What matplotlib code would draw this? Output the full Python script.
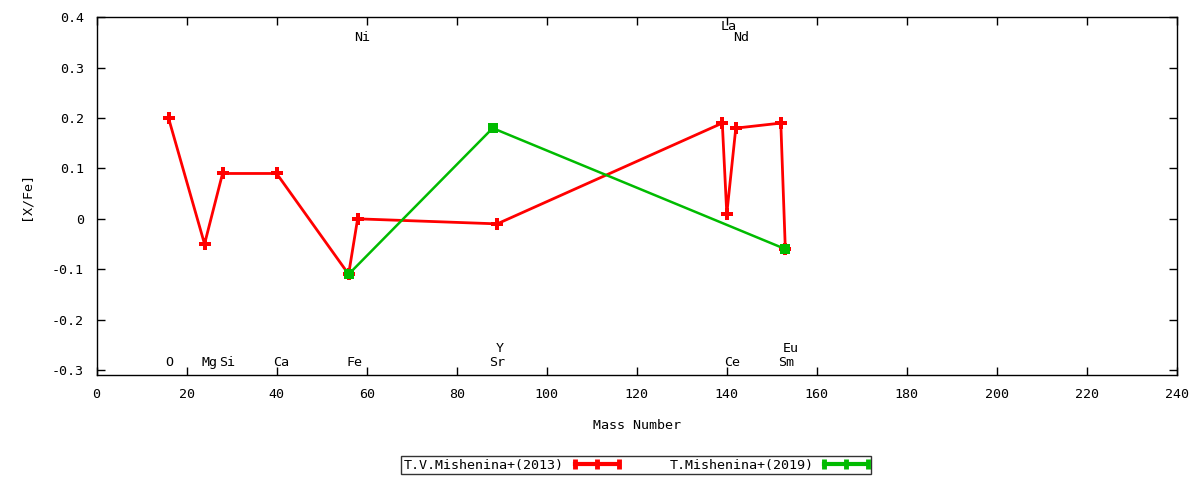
import matplotlib
matplotlib.use("Agg")
import matplotlib.pyplot as plt
from matplotlib.lines import Line2D
from matplotlib.legend_handler import HandlerLine2D

plt.rcParams['font.family'] = ['DejaVu Sans Mono']
plt.rcParams['font.size'] = 9.6

# Data
red_mass = [16, 24, 28, 40, 56, 58, 89, 139, 140, 142, 152, 153]
red_val = [0.20, -0.05, 0.09, 0.09, -0.11, 0.0, -0.01, 0.19, 0.01, 0.18, 0.19, -0.06]
green_mass = [56, 88, 153]
green_val = [-0.11, 0.18, -0.06]
red_label = "T.V.Mishenina+(2013)"
green_label = "T.Mishenina+(2019)"

elements = ["O", "Mg", "Si", "Ca", "Fe", "Ni", "Sr", "Y", "La", "Ce", "Nd", "Sm", "Eu"]
elem_x = [16.1, 25.2, 29.0, 41.1, 57.2, 59.1, 88.9, 89.5, 140.4, 141.1, 143.1, 153.1, 154.3]
elem_y = [-0.285, -0.285, -0.285, -0.285, -0.285, 0.36, -0.285, -0.257, 0.381, -0.285, 0.36, -0.285, -0.257]

xticks = list(range(0, 241, 20))
yticks = [-0.3, -0.2, -0.1, 0, 0.1, 0.2, 0.3, 0.4]
ytick_labels = ["-0.3", "-0.2", "-0.1", "0", "0.1", "0.2", "0.3", "0.4"]

fig = plt.figure(figsize=(12, 4.8), dpi=100)
ax = fig.add_axes([96.5/1200, 1 - 375/480, (1177 - 96.5)/1200, (375 - 17.3)/480])

ax.plot(red_mass, red_val, color='#ff0000', lw=2, marker='P', ms=8.5, mew=0, zorder=3)
ax.plot(green_mass, green_val, color='#00bb00', lw=1.8, marker='s', ms=7, mew=0, zorder=4)

for t, x, y in zip(elements, elem_x, elem_y):
    ax.text(x, y, t, ha='center', va='center')

ax.set_xlim(0, 240)
ax.set_ylim(-0.31, 0.4)
ax.set_xticks(xticks)
ax.set_yticks(yticks)
ax.set_yticklabels(ytick_labels)
ax.tick_params(direction='in', top=True, right=True, length=6, width=1, pad=9)
for s in ax.spines.values():
    s.set_linewidth(1)
ax.set_xlabel("Mass Number", labelpad=13)
ax.set_ylabel("[X/Fe]", labelpad=14)


class H(HandlerLine2D):
    def create_artists(self, legend, orig_handle, xdescent, ydescent, width, height, fontsize, trans):
        y = height / 2 - ydescent
        x0, x1 = -xdescent, width - xdescent
        ln = Line2D([x0, x1], [y, y], color=orig_handle.get_color(), lw=3, transform=trans)
        mk = Line2D([x0, (x0 + x1) / 2, x1], [y, y, y], color=orig_handle.get_color(),
                    lw=0, marker='|', ms=7, mew=3.5, transform=trans)
        return [ln, mk]


handles = [
    Line2D([0], [0], color='#ff0000', lw=3),
    Line2D([0], [0], color='#00bb00', lw=3),
]
leg = fig.legend(handles, [red_label, green_label], loc='center', bbox_to_anchor=(636/1200, 1 - 465/480),
                 ncol=2, markerfirst=False, frameon=True, fancybox=False, edgecolor='black',
                 handlelength=3.3, columnspacing=3.8, handletextpad=0.8, borderpad=0.2,
                 handler_map={Line2D: H()})
leg.get_frame().set_linewidth(1)

fig.savefig("out.png", dpi=100)
